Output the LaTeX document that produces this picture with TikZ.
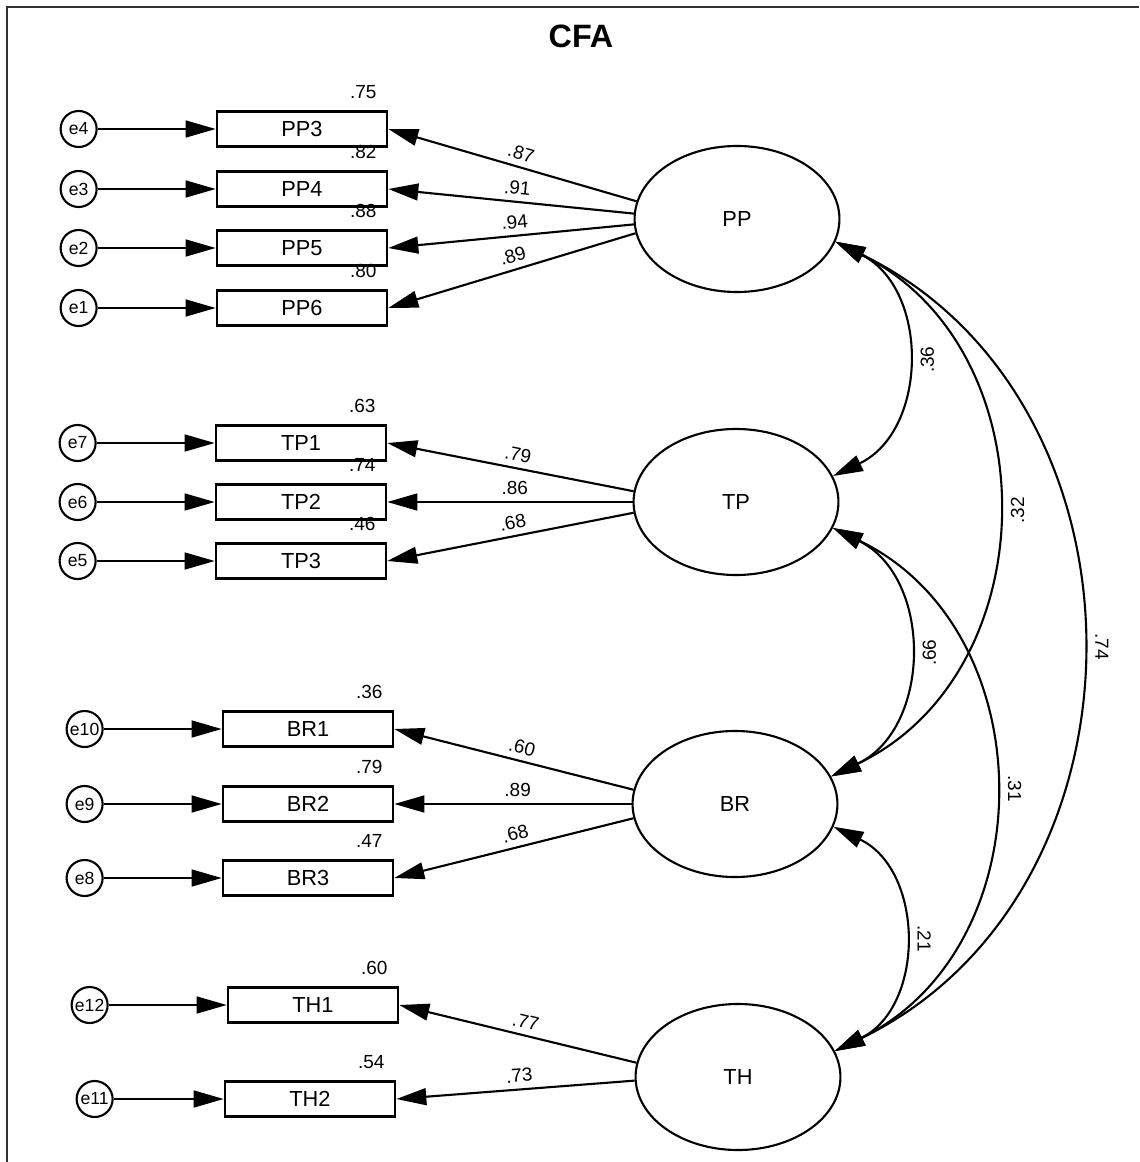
\documentclass[tikz,border=0pt]{standalone}
\usepackage{fontspec}
\setmainfont{Liberation Sans}
\usepackage{tikz}
\usetikzlibrary{arrows.meta,positioning,calc,shapes.geometric}

\begin{document}
\begin{tikzpicture}[x=0.025cm, y=-0.025cm,
  lat/.style={ellipse, draw, line width=1.5pt, minimum width=5.12cm, minimum height=3.65cm,
    inner sep=0pt, font=\fontsize{15.5}{18}\selectfont},
  ind/.style={draw, line width=1.8pt, minimum width=4.25cm, minimum height=0.87cm,
    inner sep=0pt, font=\fontsize{15.5}{18}\selectfont},
  err/.style={circle, draw, line width=1.5pt, minimum size=0.9cm, inner sep=0pt,
    font=\fontsize{12.5}{14}\selectfont},
  val/.style={font=\fontsize{13.5}{15}\selectfont, inner sep=0pt},
  lbl/.style={font=\fontsize{13.5}{15}\selectfont, sloped, above=4pt, inner sep=0.3pt, pos=0.48},
  rlbl/.style={font=\fontsize{13.5}{15}\selectfont, midway, xshift=0.55cm, inner sep=0pt},
  arr/.style={-{Triangle[length=0.75cm, width=0.42cm]}, line width=1.5pt},
  cov/.style={{Triangle[length=0.75cm, width=0.42cm]}-{Triangle[length=0.75cm, width=0.42cm]},
    line width=1.5pt, bend left=64, looseness=1.15}
]
  \useasboundingbox (0,0) rectangle (1139,1162);
  \draw[line width=1.2pt, black!80] (7,1162) -- (7,7) -- (1139,7);
  \node[font=\bfseries\fontsize{23}{27}\selectfont] (title) at (581,36) {CFA};

  % latent factors
  \node[lat] (pp) at (737,219) {PP};
  \node[lat] (tp) at (736,502) {TP};
  \node[lat] (br) at (735,804) {BR};
  \node[lat] (th) at (738,1077) {TH};

  % observed items
  \node[ind] (pp3) at (302,129) {PP3};
  \node[ind] (pp4) at (302,189) {PP4};
  \node[ind] (pp5) at (302,248) {PP5};
  \node[ind] (pp6) at (302,308) {PP6};
  \node[ind] (tp1) at (301,443) {TP1};
  \node[ind] (tp2) at (301,502) {TP2};
  \node[ind] (tp3) at (301,561) {TP3};
  \node[ind] (br1) at (308,729) {BR1};
  \node[ind] (br2) at (308,804) {BR2};
  \node[ind] (br3) at (308,878) {BR3};
  \node[ind] (th1) at (313,1005) {TH1};
  \node[ind] (th2) at (310,1099) {TH2};

  % errors
  \node[err, left=2.95cm of pp3] (e4) {e4};
  \node[err, left=2.95cm of pp4] (e3) {e3};
  \node[err, left=2.95cm of pp5] (e2) {e2};
  \node[err, left=2.95cm of pp6] (e1) {e1};
  \node[err, left=2.95cm of tp1] (e7) {e7};
  \node[err, left=2.95cm of tp2] (e6) {e6};
  \node[err, left=2.95cm of tp3] (e5) {e5};
  \node[err, left=2.95cm of br1] (e10) {e10};
  \node[err, left=2.95cm of br2] (e9) {e9};
  \node[err, left=2.95cm of br3] (e8) {e8};
  \node[err, left=2.95cm of th1] (e12) {e12};
  \node[err, left=2.75cm of th2] (e11) {e11};

  % squared multiple correlations
  \node[val] (r3) at ($(pp3.north east)+(-25,-18)$) {.75};
  \node[val] (r4) at ($(pp4.north east)+(-25,-18)$) {.82};
  \node[val] (r5) at ($(pp5.north east)+(-25,-18)$) {.88};
  \node[val] (r6) at ($(pp6.north east)+(-25,-18)$) {.80};
  \node[val] (rt1) at ($(tp1.north east)+(-25,-18)$) {.63};
  \node[val] (rt2) at ($(tp2.north east)+(-25,-18)$) {.74};
  \node[val] (rt3) at ($(tp3.north east)+(-25,-18)$) {.46};
  \node[val] (rb1) at ($(br1.north east)+(-25,-18)$) {.36};
  \node[val] (rb2) at ($(br2.north east)+(-25,-18)$) {.79};
  \node[val] (rb3) at ($(br3.north east)+(-25,-18)$) {.47};
  \node[val] (rh1) at ($(th1.north east)+(-25,-18)$) {.60};
  \node[val] (rh2) at ($(th2.north east)+(-25,-18)$) {.54};

  % error paths
  \draw[arr] (e4) -- (pp3);
  \draw[arr] (e3) -- (pp4);
  \draw[arr] (e2) -- (pp5);
  \draw[arr] (e1) -- (pp6);
  \draw[arr] (e7) -- (tp1);
  \draw[arr] (e6) -- (tp2);
  \draw[arr] (e5) -- (tp3);
  \draw[arr] (e10) -- (br1);
  \draw[arr] (e9) -- (br2);
  \draw[arr] (e8) -- (br3);
  \draw[arr] (e12) -- (th1);
  \draw[arr] (e11) -- (th2);

  % loadings
  \draw[arr] (pp.170) -- node[lbl] {.87} (pp3.east);
  \draw[arr] (pp.177) -- node[lbl] {.91} (pp4.east);
  \draw[arr] (pp.183) -- node[lbl] {.94} (pp5.east);
  \draw[arr] (pp.188) -- node[lbl] {.89} (pp6.east);
  \draw[arr] (tp.174) -- node[lbl] {.79} (tp1.east);
  \draw[arr] (tp.180) -- node[lbl] {.86} (tp2.east);
  \draw[arr] (tp.186) -- node[lbl] {.68} (tp3.east);
  \draw[arr] (br.172) -- node[lbl] {.60} (br1.east);
  \draw[arr] (br.180) -- node[lbl] {.89} (br2.east);
  \draw[arr] (br.188) -- node[lbl] {.68} (br3.east);
  \draw[arr] (th.172) -- node[lbl] {.77} (th1.east);
  \draw[arr] (th.182) -- node[lbl] {.73} (th2.east);

  % covariances
  \draw[cov] (pp.-13) to node[rlbl, rotate=90] {.36} (tp.15);
  \draw[cov] (pp.-13) to node[rlbl, rotate=90] {.32} (br.16);
  \draw[cov] (pp.-13) to node[rlbl, rotate=-90] {.74} (th.15);
  \draw[cov] (tp.-15) to node[rlbl, rotate=90] {.66} (br.16);
  \draw[cov] (tp.-15) to node[rlbl, rotate=-90] {.31} (th.15);
  \draw[cov] (br.-13) to node[rlbl, rotate=-90] {.21} (th.15);
\end{tikzpicture}
\end{document}
